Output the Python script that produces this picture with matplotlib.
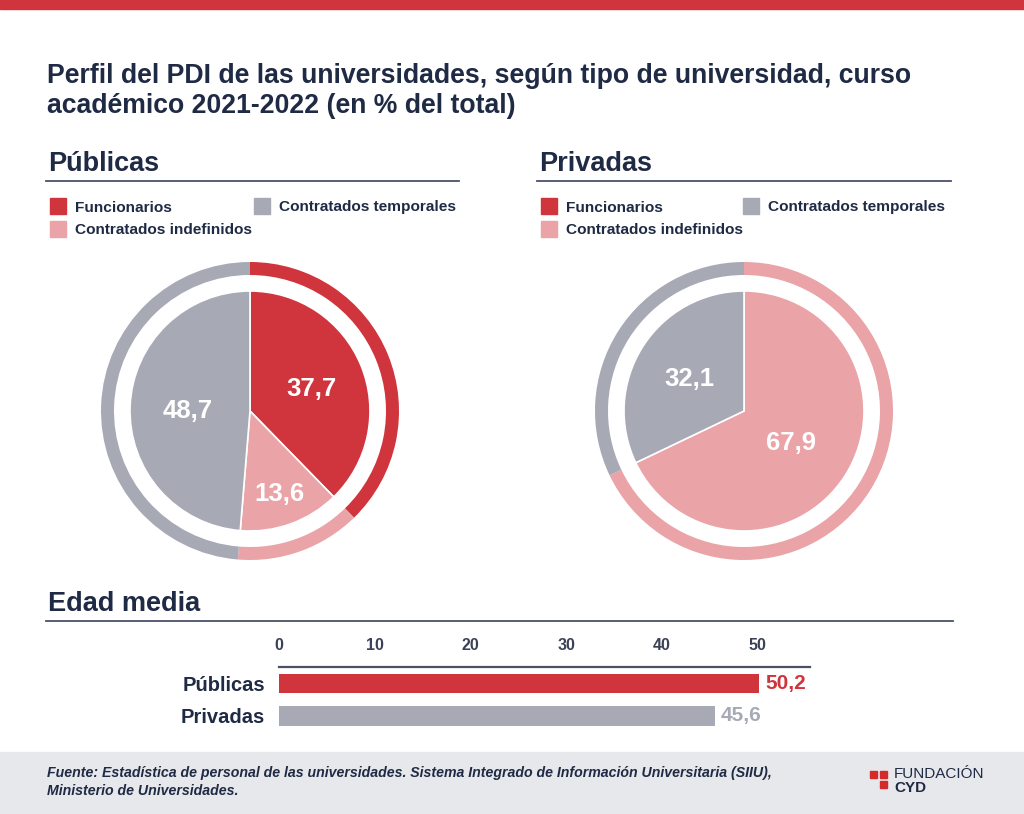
"""Perfil del PDI de las universidades (públicas vs privadas), curso 2021-2022."""

import matplotlib

matplotlib.use("Agg")
import matplotlib.pyplot as plt
from matplotlib.patches import Rectangle
import numpy as np

# ---- data ----
categories = ["Funcionarios", "Contratados indefinidos", "Contratados temporales"]
publicas = [37.7, 13.6, 48.7]
privadas = [0.0, 67.9, 32.1]

edad_grupos = ["Públicas", "Privadas"]
edad_media = [50.2, 45.6]
edad_ticks = [0, 10, 20, 30, 40, 50]

RED = "#D0343C"
PINK = "#EAA3A7"
GREY = "#A7A9B5"
NAVY = "#1F2A44"
AXIS = "#4A5068"
FOOT = "#E7E8EC"
COLORS = [RED, PINK, GREY]

W, H = 1024, 814
plt.rcParams.update({
    "font.family": ["Liberation Sans", "DejaVu Sans"],
    "font.weight": "bold",
})

fig = plt.figure(figsize=(W / 100, H / 100), dpi=100)


def fx(x):
    return x / W


def fy(y):
    return 1 - y / H


def box(x0, y0, x1, y1):
    # pixel box (top-left origin) -> figure rect
    return [fx(x0), fy(y1), (x1 - x0) / W, (y1 - y0) / H]


# bands
fig.patches.append(Rectangle((0, fy(9)), 1, 9 / H, transform=fig.transFigure,
                             color=RED, zorder=0))
fig.patches.append(Rectangle((0, 0), 1, (H - 752) / H, transform=fig.transFigure,
                             color=FOOT, zorder=0))

# title
fig.text(fx(47), fy(76), "Perfil del PDI de las universidades, según tipo de universidad, curso",
         fontsize=19.2, color=NAVY, va="center", ha="left")
fig.text(fx(47), fy(106), "académico 2021-2022 (en % del total)",
         fontsize=19.2, color=NAVY, va="center", ha="left")


def header(x, y, x1, text):
    fig.text(fx(x), fy(y), text, fontsize=19.5, color=NAVY, va="center", ha="left")
    fig.add_artist(plt.Line2D([fx(x - 2), fx(x1)], [fy(y + 17), fy(y + 17)],
                              color=AXIS, lw=1.3))


def legend(x0, x1):
    items = [(x0, 206, categories[0], RED), (x1, 206, categories[2], GREY),
             (x0, 229, categories[1], PINK)]
    for x, y, lab, col in items:
        fig.patches.append(Rectangle((fx(x), fy(y + 8)), 16 / W, 16 / H,
                                     transform=fig.transFigure, color=col))
        fig.text(fx(x + 25), fy(y), lab, fontsize=11.1, color=NAVY,
                 va="center_baseline", ha="left")


header(48, 164, 459, "Públicas")
header(539, 164, 951, "Privadas")
legend(50, 254)
legend(541, 743)


def donut(cx, cy, vals, dist):
    ax = fig.add_axes(box(cx - 160, cy - 160, cx + 160, cy + 160))
    ax.pie(vals, colors=COLORS, startangle=90, counterclock=False, radius=1.49,
           wedgeprops=dict(width=0.13, linewidth=0))
    wedges, _ = ax.pie(vals, colors=COLORS, startangle=90, counterclock=False,
                       radius=1.20, wedgeprops=dict(edgecolor="white", linewidth=1.2))
    ax.set_xlim(-1.6, 1.6)
    ax.set_ylim(-1.6, 1.6)
    ax.set_aspect("equal")
    ax.axis("off")
    for w, v, d in zip(wedges, vals, dist):
        if v <= 0:
            continue
        ang = np.deg2rad((w.theta1 + w.theta2) / 2)
        ax.text(d * np.cos(ang), d * np.sin(ang), f"{v:.1f}".replace(".", ","),
                color="white", fontsize=18.5, ha="center", va="center_baseline")


donut(250, 411, publicas, [0.66, 0.86, 0.62])
donut(744, 411, privadas, [0.6, 0.55, 0.64])

# edad media
header(48, 604, 953, "Edad media")
ax = fig.add_axes(box(279, 667, 810, 732))
bars = ax.barh(range(len(edad_grupos)), edad_media, height=0.6,
               color=[RED, GREY])
ax.set_xlim(0, 55.5)
ax.set_ylim(1.5, -0.5)
ax.set_xticks(edad_ticks)
ax.xaxis.tick_top()
ax.tick_params(axis="x", length=0, pad=10, labelsize=11.5, labelcolor="#3B4257")
ax.set_yticks(range(len(edad_grupos)))
ax.set_yticklabels(edad_grupos)
ax.tick_params(axis="y", length=0, pad=10, labelsize=14.5, labelcolor=NAVY)
for s in ["bottom", "left", "right"]:
    ax.spines[s].set_visible(False)
ax.spines["top"].set_color(AXIS)
ax.spines["top"].set_linewidth(1.6)
ax.patch.set_alpha(0)
for i, (v, col) in enumerate(zip(edad_media, [RED, GREY])):
    ax.text(v + 0.6, i, f"{v:.1f}".replace(".", ","), color=col, fontsize=15,
            ha="left", va="center")

# footer
fig.text(fx(47), fy(773), "Fuente: Estadística de personal de las universidades. "
         "Sistema Integrado de Información Universitaria (SIIU),",
         fontsize=10.2, style="italic", color=NAVY, va="center", ha="left")
fig.text(fx(47), fy(791), "Ministerio de Universidades.",
         fontsize=10.2, style="italic", color=NAVY, va="center", ha="left")

# logo
for x, y in [(870, 771), (880, 771), (880, 781)]:
    fig.patches.append(Rectangle((fx(x), fy(y + 7)), 7 / W, 7 / H,
                                 transform=fig.transFigure, color="#D42A2A"))
fig.text(fx(894), fy(774), "FUNDACIÓN", fontsize=11, weight="normal",
         color=NAVY, va="center", ha="left")
fig.text(fx(894), fy(788), "CYD", fontsize=11, color=NAVY, va="center", ha="left")

fig.savefig("out.png", dpi=100)
